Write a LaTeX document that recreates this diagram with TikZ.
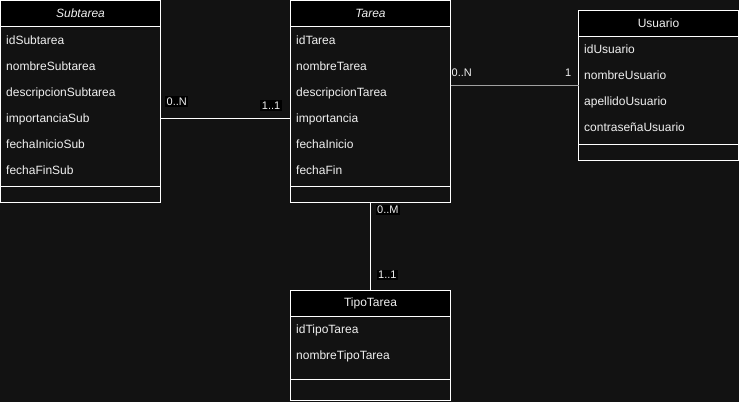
\documentclass[tikz,border=0pt]{standalone}
\usepackage{fontspec}
\setmainfont{Liberation Sans}
\usepackage{xcolor}
\usetikzlibrary{positioning, calc}

\definecolor{umlbg}{RGB}{18,18,18}
\definecolor{umltext}{RGB}{240,240,240}
\definecolor{umlgray}{RGB}{160,160,160}

\tikzset{
    umlbox/.style={draw=white, line width=1pt, minimum width=160pt, anchor=north west,
        inner sep=0pt, outer sep=0pt, text=umltext, font=\fontsize{12}{14}\selectfont},
    umlhead/.style={umlbox, fill=black, minimum height=26pt},
    umlbody/.style={umlbox, fill=umlbg},
    attr/.style={anchor=west, inner sep=0pt, text height=8.6pt, text depth=0pt,
        text=umltext, font=\fontsize{12}{14}\selectfont},
    mult/.style={fill=black, inner sep=1.5pt, text height=7.9pt, text depth=0pt,
        text=umltext, font=\fontsize{11}{13}\selectfont},
    multplain/.style={mult, fill=none},
    assoc/.style={draw=white, line width=1pt}
}

\begin{document}
\begin{tikzpicture}[x=1pt, y=-1pt]
    \fill[umlbg] (0,0) rectangle (739,402);
    \useasboundingbox (0,0) rectangle (739,402);

    % Subtarea
    \node[umlhead] (subHead) at (0.5,0.5) {\itshape Subtarea};
    \node[umlbody, minimum height=160pt] (subBody) at (subHead.south west) {};
    \node[umlbody, minimum height=16pt] (subFoot) at (subBody.south west) {};
    \node[attr] (subId) at (6,40) {idSubtarea};
    \node[attr] (subNom) at (6,66) {nombreSubtarea};
    \node[attr] (subDesc) at (6,92) {descripcionSubtarea};
    \node[attr] (subImp) at (6,118) {importanciaSub};
    \node[attr] (subIni) at (6,144) {fechaInicioSub};
    \node[attr] (subFin) at (6,170) {fechaFinSub};

    % Tarea
    \node[umlhead] (tarHead) at (290.5,0.5) {\itshape Tarea};
    \node[umlbody, minimum height=160pt] (tarBody) at (tarHead.south west) {};
    \node[umlbody, minimum height=16pt] (tarFoot) at (tarBody.south west) {};
    \node[attr] (tarId) at (296,40) {idTarea};
    \node[attr] (tarNom) at (296,66) {nombreTarea};
    \node[attr] (tarDesc) at (296,92) {descripcionTarea};
    \node[attr] (tarImp) at (296,118) {importancia};
    \node[attr] (tarIni) at (296,144) {fechaInicio};
    \node[attr] (tarFin) at (296,170) {fechaFin};

    % Usuario
    \node[umlhead] (usrHead) at (578.5,10.5) {Usuario};
    \node[umlbody, minimum height=108pt] (usrBody) at (usrHead.south west) {};
    \node[umlbody, minimum height=16pt] (usrFoot) at (usrBody.south west) {};
    \node[attr] (usrId) at (584,49) {idUsuario};
    \node[attr] (usrNom) at (584,75) {nombreUsuario};
    \node[attr] (usrApe) at (584,101) {apellidoUsuario};
    \node[attr] (usrPass) at (584,127) {contraseñaUsuario};
    \coordinate (usrMid) at ($(usrHead.north west)!0.5!(usrFoot.south west)$);

    % TipoTarea
    \node[umlhead] (tipHead) at (290.5,290.5) {TipoTarea};
    \node[umlbody, minimum height=62.5pt] (tipBody) at (tipHead.south west) {};
    \node[umlbody, minimum height=21pt] (tipFoot) at (tipBody.south west) {};
    \node[attr] (tipId) at (296,329) {idTipoTarea};
    \node[attr] (tipNom) at (296,355) {nombreTipoTarea};

    % associations
    \draw[assoc] (subBody.east |- subImp) -- (tarBody.west |- subImp);
    \draw[assoc, draw=umlgray] (tarBody.east |- usrMid) -- (usrMid);
    \draw[assoc] (tarFoot.south) -- (tipHead.north);

    \node[mult, anchor=west] (subTarN) at (165,101.5) {0..N};
    \node[mult, anchor=east] (subTar1) at (282,105.5) {1..1};
    \node[multplain, anchor=west] (tarUsrN) at (450,73) {0..N};
    \node[multplain, anchor=east] (tarUsr1) at (573,73) {1};
    \node[mult, anchor=west] (tarTipM) at (375.5,210) {0..M};
    \node[mult, anchor=west] (tarTip1) at (376.5,275) {1..1};
\end{tikzpicture}
\end{document}
